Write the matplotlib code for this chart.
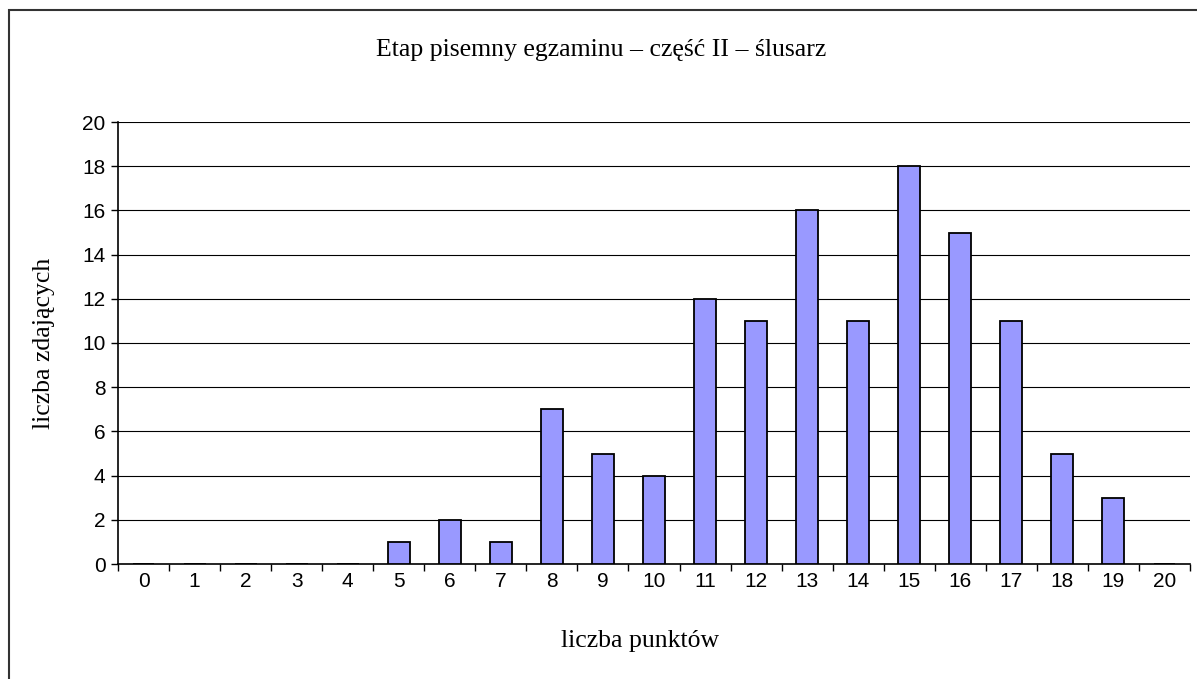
import numpy as np
import matplotlib.pyplot as plt
from matplotlib.patches import Rectangle

punkty = list(range(21))
zdajacy = [0, 0, 0, 0, 0, 1, 2, 1, 7, 5, 4, 12, 11, 16, 11, 18, 15, 11, 5, 3, 0]
y_ticks = list(range(0, 21, 2))

fig = plt.figure(figsize=(11.97, 6.79), dpi=100)
ax = fig.add_axes([118 / 1197, 1 - 564 / 679, 1072 / 1197, 442 / 679])

x = np.arange(len(punkty))
ax.bar(x, zdajacy, width=0.43, color='#9999ff', edgecolor='black', linewidth=1.3, zorder=3)

ax.set_xlim(-0.5, len(punkty) - 0.5)
ax.set_ylim(0, 20)
ax.set_yticks(y_ticks)
ax.set_yticklabels([str(v) for v in y_ticks], family='Liberation Sans', fontsize=15)
ax.yaxis.grid(True, color='black', linewidth=0.8)
ax.set_axisbelow(True)

# categories between tick marks, like in a spreadsheet chart
ax.set_xticks(x)
ax.set_xticklabels([str(p) for p in punkty], family='Liberation Sans', fontsize=15)
ax.tick_params(axis='x', length=0, pad=6)
ax.set_xticks(np.arange(-0.5, len(punkty)), minor=True)
ax.tick_params(axis='x', which='minor', length=5, width=1, direction='out')
ax.tick_params(axis='y', length=5, width=1, direction='out', pad=4)

for s in ['top', 'right']:
    ax.spines[s].set_visible(False)
ax.spines['left'].set_linewidth(1.2)
ax.spines['bottom'].set_linewidth(1.2)

fig.text(601 / 1197, 1 - 50 / 679, 'Etap pisemny egzaminu – część II – ślusarz',
         family='Liberation Serif', fontsize=18.5, ha='center', va='center')
fig.text(640 / 1197, 1 - 641 / 679, 'liczba punktów',
         family='Liberation Serif', fontsize=18.5, ha='center', va='center')
fig.text(44 / 1197, 1 - 343 / 679, 'liczba zdających',
         family='Liberation Serif', fontsize=18.5, ha='center', va='center', rotation=90)

# outer chart frame, cut off at the right and bottom edges
fig.patches.append(Rectangle((9 / 1197, -0.05), 1.1, 1 - 10 / 679 + 0.05,
                             transform=fig.transFigure, fill=False,
                             edgecolor='#333333', linewidth=1.5))

fig.savefig('out.png', dpi=100)
